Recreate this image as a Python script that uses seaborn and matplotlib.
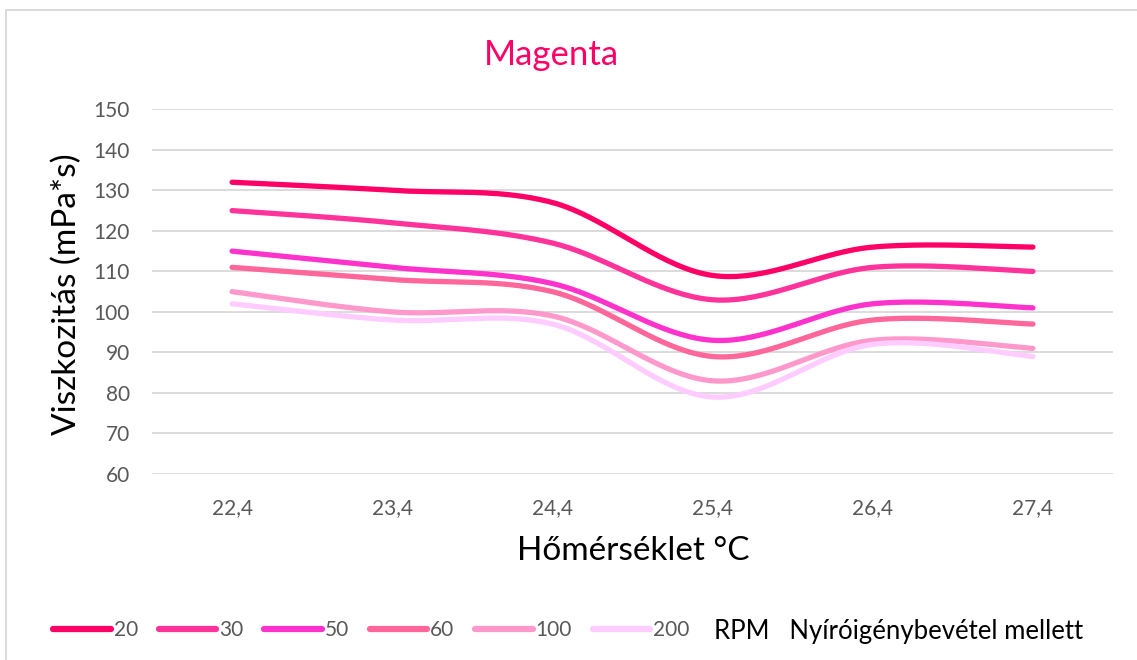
import numpy as np
import pandas as pd
import matplotlib
matplotlib.use("Agg")
import matplotlib.pyplot as plt
import matplotlib.patches as mpatches
from matplotlib.lines import Line2D
import seaborn as sns

# Temperature categories (°C) and viscosity (mPa*s) per spindle speed
temperatures = ["22,4", "23,4", "24,4", "25,4", "26,4", "27,4"]
rpm_labels = ["20", "30", "50", "60", "100", "200"]
visc_20 = [132, 130, 127, 109, 116, 116]
visc_30 = [125, 122, 117, 103, 111, 110]
visc_50 = [115, 111, 107, 93, 102, 101]
visc_60 = [111, 108, 105, 89, 98, 97]
visc_100 = [105, 100, 99, 83, 93, 91]
visc_200 = [102, 98, 97, 79, 92, 89]
series = [visc_20, visc_30, visc_50, visc_60, visc_100, visc_200]
colors = ["#FF0066", "#FF3399", "#FF33CC", "#FF6699", "#FF99CC", "#FFCCFF"]


def smooth(xs, ys, n=40):
    """Cubic Bezier smoothing through every point (Catmull-Rom style)."""
    p = np.column_stack([xs, ys]).astype(float)
    ext = np.vstack([p[0], p, p[-1]])
    out = [p[0]]
    t = np.linspace(0, 1, n)[1:, None]
    for i in range(len(p) - 1):
        p0, p1, p2, p3 = ext[i], ext[i + 1], ext[i + 2], ext[i + 3]
        c1 = p1 + (p2 - p0) / 6.0
        c2 = p2 - (p3 - p1) / 6.0
        seg = ((1 - t) ** 3) * p1 + 3 * ((1 - t) ** 2) * t * c1 \
            + 3 * (1 - t) * t ** 2 * c2 + t ** 3 * p2
        out.extend(seg)
    return np.array(out)


rows = []
xpos = np.arange(len(temperatures))
for lab, vals in zip(rpm_labels, series):
    curve = smooth(xpos, vals)
    for k, (x, y) in enumerate(curve):
        rows.append({"x": x, "y": y, "rpm": lab, "order": k})
df = pd.DataFrame(rows)

sns.set_theme(style="white")
plt.rcParams["font.family"] = ["Lato", "DejaVu Sans"]

W, H = 1137, 660
fig = plt.figure(figsize=(W / 100, H / 100), dpi=100)
fig.patch.set_facecolor("white")
ax = fig.add_axes([152 / W, 1 - 474 / H, (1113 - 152) / W, (474 - 109.3) / H])

sns.lineplot(data=df, x="x", y="y", hue="rpm", hue_order=rpm_labels,
             palette=colors, sort=False, estimator=None, units="rpm",
             linewidth=3.8, ax=ax, legend=False)
for ln in ax.get_lines():
    ln.set_solid_capstyle("round")
    ln.set_solid_joinstyle("round")

ax.set_xlim(-0.5, len(temperatures) - 0.5)
ax.set_ylim(60, 150)
ax.set_yticks(np.arange(60, 151, 10))
ax.set_xticks(xpos)
ax.set_xticklabels(temperatures)
ax.grid(axis="y", color="#D9D9D9", linewidth=1.3)
ax.set_axisbelow(True)
for s in ax.spines.values():
    s.set_visible(False)
ax.tick_params(axis="both", length=0, labelsize=15, labelcolor="#595959")
ax.tick_params(axis="y", pad=16)
ax.tick_params(axis="x", pad=17)
ax.set_xlabel("")
ax.set_ylabel("")

# Legend along the bottom
handles = [Line2D([0], [0], color=c, linewidth=4.5, solid_capstyle="round")
           for c in colors]
leg = fig.legend(handles, rpm_labels, loc="center left",
                 bbox_to_anchor=(45 / W, 1 - 630 / H),
                 ncol=6, frameon=False, fontsize=15, handlelength=2.75,
                 handletextpad=0.15, columnspacing=1.0, borderaxespad=0)
for t in leg.get_texts():
    t.set_color("#595959")

fig.text(714 / W, 1 - 632 / H, "RPM   Nyíróigénybevétel mellett", fontsize=18.5,
         color="black", ha="left", va="center")

fig.text(551 / W, 1 - 55 / H, "Magenta", fontsize=25, color="#FF0066",
         ha="center", va="center")
fig.text(633 / W, 1 - 551 / H, "Hőmérséklet °C", fontsize=24, color="black",
         ha="center", va="center")
fig.text(67 / W, 1 - 294 / H, "Viszkozitás (mPa*s)", fontsize=24, color="black",
         ha="center", va="center", rotation=90)

# Chart area frame
fig.patches.append(mpatches.Rectangle((6 / W, -0.1), 1.2, 1 - 10 / H + 0.1,
                                      transform=fig.transFigure, fill=False,
                                      edgecolor="#D9D9D9", linewidth=1.3))

fig.savefig("out.png", dpi=100, facecolor="white")
